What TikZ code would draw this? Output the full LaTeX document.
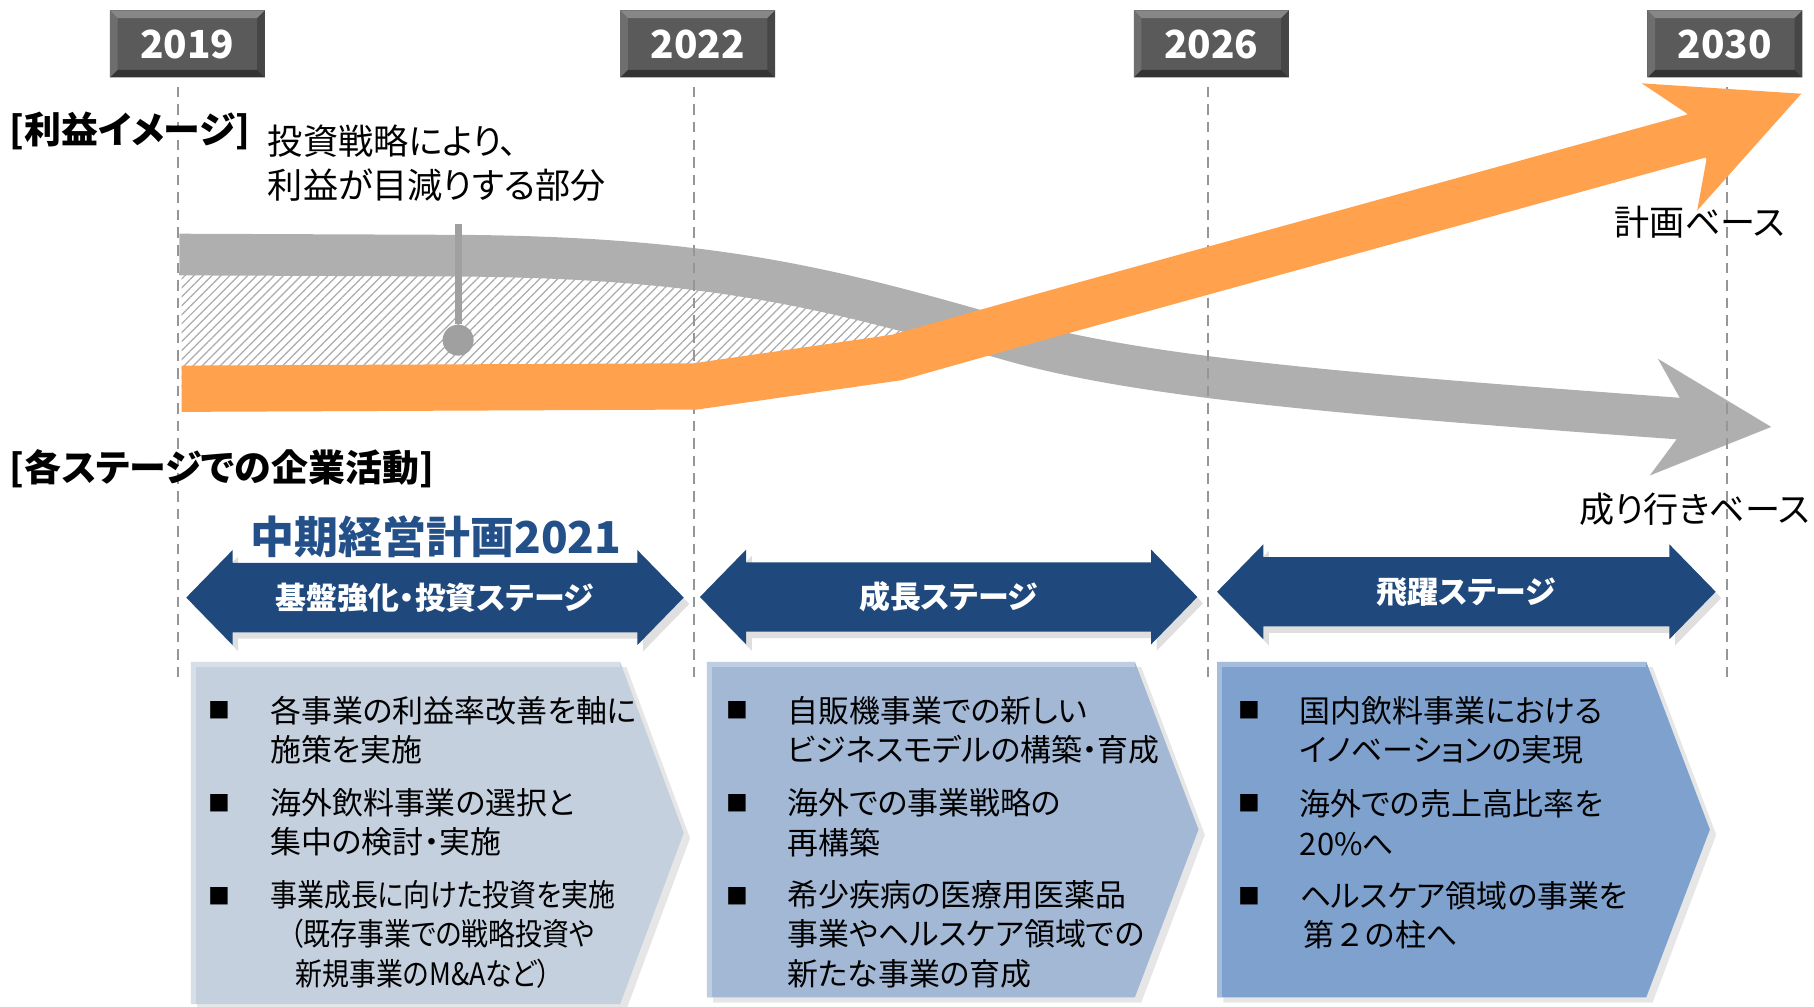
\documentclass[tikz,border=0pt]{standalone}
\usepackage{fontspec}
\usepackage{graphicx}
\setmainfont{Noto Sans CJK JP}[RawFeature={+palt}]
\usetikzlibrary{patterns.meta,shadows}

\definecolor{yeargray}{RGB}{90,90,90}
\definecolor{yeartop}{RGB}{135,135,135}
\definecolor{yearbot}{RGB}{52,52,52}
\definecolor{yearleft}{RGB}{110,110,110}
\definecolor{yearright}{RGB}{70,70,70}
\definecolor{guidegray}{RGB}{150,150,150}
\definecolor{hatchgray}{RGB}{170,170,170}
\definecolor{trendgray}{RGB}{175,175,175}
\definecolor{pingray}{RGB}{160,160,160}
\definecolor{planorange}{RGB}{255,161,77}
\definecolor{stageblue}{RGB}{31,73,125}
\definecolor{titleblue}{RGB}{36,80,138}
\definecolor{boxa}{RGB}{197,208,223}
\definecolor{boxb}{RGB}{163,184,213}
\definecolor{boxc}{RGB}{127,161,205}

\tikzset{
  yearbox/.style={minimum width=1.55cm, minimum height=0.67cm, inner sep=0pt,
    fill=yeargray, text=white, font=\fontsize{11}{13}\selectfont\bfseries,
    path picture={
      \fill[yeartop] (path picture bounding box.north west) -- (path picture bounding box.north east)
        -- ([shift={(-2.2pt,-2.2pt)}]path picture bounding box.north east)
        -- ([shift={(2.2pt,-2.2pt)}]path picture bounding box.north west) -- cycle;
      \fill[yearbot] (path picture bounding box.south west) -- (path picture bounding box.south east)
        -- ([shift={(-2.2pt,2.2pt)}]path picture bounding box.south east)
        -- ([shift={(2.2pt,2.2pt)}]path picture bounding box.south west) -- cycle;
      \fill[yearleft] (path picture bounding box.north west) -- (path picture bounding box.south west)
        -- ([shift={(2.2pt,2.2pt)}]path picture bounding box.south west)
        -- ([shift={(2.2pt,-2.2pt)}]path picture bounding box.north west) -- cycle;
      \fill[yearright] (path picture bounding box.north east) -- (path picture bounding box.south east)
        -- ([shift={(-2.2pt,2.2pt)}]path picture bounding box.south east)
        -- ([shift={(-2.2pt,-2.2pt)}]path picture bounding box.north east) -- cycle;
    }},
  guide/.style={draw=guidegray, line width=0.5pt, dash pattern=on 3pt off 2pt},
  trendband/.style={draw=trendgray, line width=0.4165cm},
  planband/.style={draw=planorange, line width=0.4628cm},
  pinline/.style={draw=pingray, line width=2pt},
  pindot/.style={circle, fill=pingray, minimum size=0.31cm, inner sep=0pt},
  heading/.style={font=\fontsize{10.5}{12}\selectfont\bfseries, anchor=west, inner sep=0pt},
  note/.style={font=\fontsize{10}{12.5}\selectfont, align=left, anchor=west, inner sep=0pt},
  plantitle/.style={font=\fontsize{12.5}{14}\selectfont\bfseries, text=titleblue, inner sep=0pt},
  stagearrow/.style={fill=stageblue, drop shadow={opacity=0.25, shadow xshift=1.6pt, shadow yshift=-1.8pt}},
  stagelabel/.style={text=white, font=\fontsize{8.8}{10}\selectfont\bfseries, inner sep=0pt},
  itembox/.style={drop shadow={opacity=0.2, shadow xshift=1.8pt, shadow yshift=-1.5pt}},
  boxglow/.style={draw=white, opacity=0.3, line width=1.4pt},
  bulletmark/.style={font=\fontsize{6.2}{6.2}\selectfont, inner sep=0pt},
  itemtext/.style={font=\fontsize{8.8}{11.2}\selectfont, align=left, anchor=west, inner sep=0pt}
}

\begin{document}
\begin{tikzpicture}[x=0.011569cm, y=-0.011569cm]
\useasboundingbox (0,0) rectangle (1568,870);

\fill[pattern={Lines[angle=45,distance=1.8pt,line width=0.35pt]}, pattern color=hatchgray]
  (157,220) -- (400,221) .. controls (620,223) and (720,250) .. (870,293)
  -- (775,309) -- (601,334) -- (157,336) -- cycle;

\draw[trendband] (155,220) -- (400,221) .. controls (620,223) and (720,250) .. (870,293)
  .. controls (980,325) and (1150,340) .. (1454,362);
\fill[trendgray] (1452,344) -- (1433,310) -- (1531,369) -- (1426,411) -- (1449,380) -- cycle;

\foreach \gx in {154,600,1044,1493}
  \draw[guide] (\gx,75) -- (\gx,585);

\draw[planband] (157,336) -- (601,334) -- (775,309) -- (899,274) -- (1472,116);
\fill[planorange] (1458,98) -- (1419,72) -- (1557,81) -- (1467,182) -- (1475,138) -- cycle;

\node[pindot] (dot) at (396,294) {};
\coordinate (pintop) at (396,194);
\draw[pinline] (dot) -- (pintop);

\foreach \yr/\bx in {2019/162,2022/603,2026/1047,2030/1491}
  \node[yearbox] (y\yr) at (\bx,38) {\yr};

\node[heading] (hprofit) at (8,113) {[利益イメージ]};
\node[heading] (hstage) at (8,405) {[各ステージでの企業活動]};
\node[note] (cap) at (231,141) {投資戦略により、\\利益が目減りする部分};
\node[note] (lplan) at (1395,192) {計画ベース};
\node[note, anchor=east] (ltrend) at (1565,440) {成り行きベース};

\node[plantitle] (mtp) at (377,464) {中期経営計画2021};

\foreach \nm/\lx/\rx/\cy/\txt in {sa/161/591/516.5/基盤強化・投資ステージ,
    sb/605/1035/516/成長ステージ, sc/1052/1483/511.5/飛躍ステージ}{
  \fill[stagearrow] (\lx,\cy) -- ({\lx+40},{\cy-41}) -- ({\lx+40},{\cy-30}) -- ({\rx-40},{\cy-30})
    -- ({\rx-40},{\cy-41}) -- (\rx,\cy) -- ({\rx-40},{\cy+41}) -- ({\rx-40},{\cy+30})
    -- ({\lx+40},{\cy+30}) -- ({\lx+40},{\cy+41}) -- cycle;
  \node[stagelabel] (\nm) at ({(\lx+\rx)/2},\cy) {\txt};
}

\foreach \ax/\bx/\px/\py/\by/\col in {165/536/591/720/868/boxa,
    611/981/1036/717/862/boxb, 1052/1423/1478/717/862/boxc}{
  \fill[itembox, fill=\col] (\ax,572) -- (\bx,572) -- (\px,\py) -- (\bx,\by) -- (\ax,\by) -- cycle;
  \draw[boxglow] ({\ax+2},\by) -- ({\ax+2},574) -- (\bx,574);
}

\foreach \mx/\c in {190/a,637/b,1080/c}
  \foreach \my/\i in {614/1,694/2,775/3}
    \node[bulletmark] (m\c\i) at (\mx,\my) {■};

\node[itemtext] (ta1) at (233,631) {各事業の利益率改善を軸に\\施策を実施};
\node[itemtext] (ta2) at (233,711) {海外飲料事業の選択と\\集中の検討・実施};
\node[itemtext] (ta3) at (233,807.5) {\scalebox{0.87}[1]{事業成長に向けた投資を実施}\\
  \hspace*{5.6pt}\scalebox{0.87}[1]{（既存事業での戦略投資や}\\
  \hspace*{7.2pt}\scalebox{0.87}[1]{新規事業のM\&Aなど）}};

\node[itemtext] (tb1) at (680,631) {自販機事業での新しい\\ビジネスモデルの構築・育成};
\node[itemtext] (tb2) at (680,711) {海外での事業戦略の\\再構築};
\node[itemtext] (tb3) at (680,807.5) {希少疾病の医療用医薬品\\事業やヘルスケア領域での\\新たな事業の育成};

\node[itemtext] (tc1) at (1123,631) {国内飲料事業における\\イノベーションの実現};
\node[itemtext] (tc2) at (1123,711) {海外での売上高比率を\\20\%へ};
\node[itemtext] (tc3) at (1123,791) {ヘルスケア領域の事業を\\\hspace*{1pt}第{\addfontfeature{RawFeature=-palt}２}の柱へ};
\end{tikzpicture}
\end{document}
